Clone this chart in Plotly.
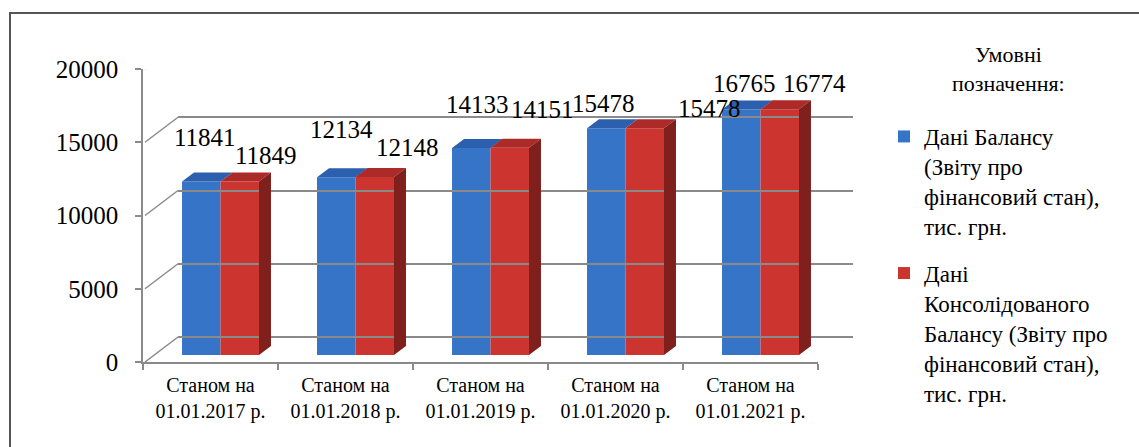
import plotly.graph_objects as go

# ---- data -------------------------------------------------------------
categories = [
    "Станом на<br>01.01.2017 р.",
    "Станом на<br>01.01.2018 р.",
    "Станом на<br>01.01.2019 р.",
    "Станом на<br>01.01.2020 р.",
    "Станом на<br>01.01.2021 р.",
]
balance = [11841, 12134, 14133, 15478, 16765]
consolidated = [11849, 12148, 14151, 15478, 16774]
series_names = [
    "Дані Балансу<br>(Звіту про<br>фінансовий стан),<br>тис. грн.",
    "Дані<br>Консолідованого<br>Балансу (Звіту про<br>фінансовий стан),<br>тис. грн.",
]
legend_heading = "Умовні<br>позначення:"
y_ticks = [0, 5000, 10000, 15000, 20000]
y_tick_text = ["0", "5000", "10000", "15000", "20000"]

# ---- geometry of the pseudo-3D box --------------------------------------
W, H = 1139, 447
M_L, M_R, M_T, M_B = 143, 286, 44, 85
PW, PH = W - M_L - M_R, H - M_T - M_B          # paper area in px
FRONT_W, FRONT_H = 675, 293                     # front plane size in px
WALL_DX, WALL_DY = 35, 25                       # depth of the back wall
BAR_DX, BAR_DY = 10, 7                          # bars sit mid-depth
SIDE_DX, SIDE_DY = 12, 9                        # bar thickness
Y_MAX = 20000
N = len(categories)
BARGAP = 0.43
BW = (1 - BARGAP) / 2                           # width of one bar (data units)

px_per_cat = FRONT_W / N
px_per_val = FRONT_H / Y_MAX
dx_data = SIDE_DX / px_per_cat
dy_data = SIDE_DY / px_per_val

FONT = "Liberation Serif"
GRID = "#8a8a8a"

BLUE, BLUE_TOP = "#3674c8", "#2c5fae"
RED, RED_TOP, RED_SIDE = "#cc342f", "#ac2a28", "#7f201d"


def dom(offset_px, length_px, total_px):
    return [offset_px / total_px, (offset_px + length_px) / total_px]


def px_x(p):
    return (p - M_L) / PW


def px_y(p):
    return (H - M_B - p) / PH


fig = go.Figure()

xs = list(range(N))
fig.add_trace(go.Bar(x=xs, y=balance, name=series_names[0], marker_color=BLUE,
                     marker_line_width=0, xaxis="x2", yaxis="y2",
                     legendgroup="a"))
fig.add_trace(go.Bar(x=xs, y=consolidated, name=series_names[1], marker_color=RED,
                     marker_line_width=0, xaxis="x2", yaxis="y2",
                     legendgroup="b"))

shapes = []
# top and side faces of the bars
for i in range(N):
    vb, vr = balance[i], consolidated[i]
    shapes.append(dict(
        type="path", xref="x2", yref="y2", fillcolor=BLUE_TOP, line_width=0,
        path=f"M{i-BW},{vb} L{i},{vb} L{i+dx_data},{vb+dy_data} L{i-BW+dx_data},{vb+dy_data} Z"))
    shapes.append(dict(
        type="path", xref="x2", yref="y2", fillcolor=RED_TOP, line_width=0,
        path=f"M{i},{vr} L{i+BW},{vr} L{i+BW+dx_data},{vr+dy_data} L{i+dx_data},{vr+dy_data} Z"))
    shapes.append(dict(
        type="path", xref="x2", yref="y2", fillcolor=RED_SIDE, line_width=0,
        path=f"M{i+BW},0 L{i+BW},{vr} L{i+BW+dx_data},{vr+dy_data} L{i+BW+dx_data},{dy_data} Z"))

# diagonals joining the front value axis to the back wall grid
for v in y_ticks:
    shapes.append(dict(type="line", xref="x", yref="y", xsizemode="pixel",
                       ysizemode="pixel", xanchor=-0.5, yanchor=v,
                       x0=2, y0=0, x1=WALL_DX, y1=WALL_DY,
                       line=dict(color=GRID, width=1.5), layer="below"))
# right edge of the floor
shapes.append(dict(type="line", xref="x", yref="y", xsizemode="pixel",
                   ysizemode="pixel", xanchor=N - 0.5, yanchor=0,
                   x0=0, y0=0, x1=WALL_DX, y1=WALL_DY,
                   line=dict(color=GRID, width=1.5), layer="below"))

# page frame around the chart
shapes.append(dict(type="path", xref="paper", yref="paper",
                   path=f"M{px_x(10)},{px_y(460)} L{px_x(10)},{px_y(13)} L{px_x(1145)},{px_y(13)}",
                   line=dict(color="#555555", width=2)))

# value labels (pixel nudges relative to each bar top)
label_shift = {
    0: [(4, 44), (26, 26)],
    1: [(5, 48), (33, 30)],
    2: [(6, 43), (33, 38)],
    3: [(-3, 25), (65, 20)],
    4: [(3, 26), (35, 26)],
}
annotations = []
for i in range(N):
    for s, (vals, off) in enumerate(((balance, -BW / 2), (consolidated, BW / 2))):
        sx, sy = label_shift[i][s]
        annotations.append(dict(
            x=i + off, y=vals[i], xref="x2", yref="y2", text=str(vals[i]),
            showarrow=False, xanchor="center", yanchor="middle",
            xshift=sx, yshift=sy, font=dict(family=FONT, size=25, color="black")))

# heading above the legend
annotations.append(dict(
    x=px_x(1008), y=px_y(69), xref="paper", yref="paper", text=legend_heading,
    showarrow=False, xanchor="center", yanchor="middle", align="center",
    font=dict(family=FONT, size=22, color="black")))

fig.update_layout(
    width=W, height=H,
    margin=dict(l=M_L, r=M_R, t=M_T, b=M_B),
    paper_bgcolor="white", plot_bgcolor="rgba(0,0,0,0)",
    barmode="group", bargap=BARGAP, bargroupgap=0,
    font=dict(family=FONT, color="black"),
    showlegend=True,
    legend=dict(
        x=px_x(884), xanchor="left", y=px_y(115), yanchor="top",
        traceorder="grouped", tracegroupgap=14, valign="top",
        maxheight=440,
        font=dict(family=FONT, size=23, color="black"),
        bgcolor="rgba(0,0,0,0)",
    ),
    # front plane: value axis and category axis
    xaxis=dict(domain=dom(0, FRONT_W, PW), range=[-0.5, N - 0.5],
               tickvals=xs, ticktext=categories, ticks="",
               tickfont=dict(family=FONT, size=20, color="black"),
               ticklabelstandoff=4,
               showline=True, linecolor=GRID, linewidth=1.5,
               showgrid=False, zeroline=False,
               minor=dict(tickmode="array", tickvals=[k - 0.5 for k in range(N + 1)],
                          ticks="outside", ticklen=6, tickcolor=GRID, tickwidth=1.5),
               anchor="y"),
    yaxis=dict(domain=dom(0, FRONT_H, PH), range=[0, Y_MAX],
               tickvals=y_ticks, ticktext=y_tick_text,
               ticks="outside", ticklen=6, tickcolor=GRID, tickwidth=1.5,
               showline=True, linecolor=GRID, linewidth=1.5,
               showgrid=False, zeroline=False, ticklabelstandoff=12,
               tickfont=dict(family=FONT, size=25, color="black"), anchor="x"),
    # bars plane (mid-depth)
    xaxis2=dict(domain=dom(BAR_DX, FRONT_W, PW), range=[-0.5, N - 0.5],
                visible=False, anchor="y2"),
    yaxis2=dict(domain=dom(BAR_DY, FRONT_H, PH), range=[0, Y_MAX],
                visible=False, anchor="x2"),
    # back wall carrying the grid
    xaxis3=dict(domain=dom(WALL_DX, FRONT_W, PW), range=[-0.5, N - 0.5],
                visible=False, anchor="y3"),
    yaxis3=dict(domain=dom(WALL_DY, FRONT_H, PH), range=[0, Y_MAX], tickvals=y_ticks,
                showticklabels=False, ticks="", showline=False,
                showgrid=True, gridcolor=GRID, gridwidth=1.5,
                zeroline=True, zerolinecolor=GRID, zerolinewidth=1.5,
                anchor="x3", layer="below traces"),
    shapes=shapes,
    annotations=annotations,
)

# invisible trace so the back-wall axes get drawn
fig.add_trace(go.Scatter(x=[0], y=[0], xaxis="x3", yaxis="y3", mode="markers",
                         marker=dict(opacity=0), showlegend=False, hoverinfo="skip"))

fig.write_html("out.html")
